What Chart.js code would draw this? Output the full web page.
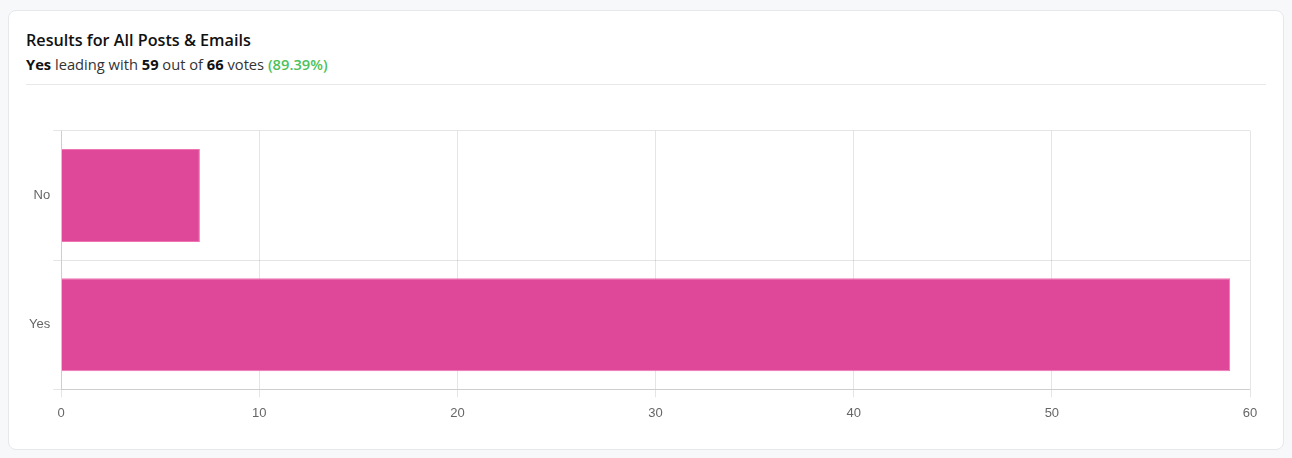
<!DOCTYPE html>
<html>
<head>
<meta charset="utf-8">
<script src="https://cdn.jsdelivr.net/npm/chart.js@4"></script>
<style>
  body { margin: 0; background: #f7f8fa; font-family: "Open Sans", "Noto Sans", sans-serif; }
  .card {
    position: absolute; left: 8px; top: 10px; width: 1274px; height: 438px;
    background: #fff; border: 1px solid #e6e8ec; border-radius: 8px;
  }
  .head { position: absolute; left: 17px; top: 18px; width: 1240px; height: 55px; border-bottom: 1px solid #e8e8e8; }
  h3 { margin: 0; font-size: 16.2px; font-weight: 600; color: #111; line-height: 22px; }
  .sub { font-size: 14.7px; color: #333; line-height: 22px; margin-top: 2px; }
  .sub b { color: #111; }
  .pct { color: #4cc15a; font-weight: 600; }
  .wrap { position: absolute; left: 17px; top: 109px; width: 1248px; height: 309px; }
</style>
</head>
<body>
<div class="card">
  <div class="head">
    <h3>Results for All Posts &amp; Emails</h3>
    <div class="sub"><b>Yes</b> leading with <b>59</b> out of <b>66</b> votes <span class="pct">(89.39%)</span></div>
  </div>
  <div class="wrap"><canvas id="resultsChart"></canvas></div>
</div>
<script>
// poll answers and vote counts
const answers = ['No', 'Yes'];
const votes = [7, 59];

const ctx = document.getElementById('resultsChart').getContext('2d');

new Chart(ctx, {
    type: 'bar',
    data: {
        labels: answers,
        datasets: [{
            label: 'Votes',
            data: votes,
            backgroundColor: '#df4898',
            borderColor: '#ee74b4',
            borderWidth: 1
        }]
    },
    options: {
        indexAxis: 'y',
        responsive: true,
        maintainAspectRatio: false,
        animation: false,
        layout: { padding: { top: 6, right: 24 } },
        plugins: {
            legend: { display: false },
            tooltip: { enabled: false }
        },
        scales: {
            x: { beginAtZero: true, max: 60, ticks: { stepSize: 10, padding: 8, font: { size: 13 } } },
            y: { ticks: { font: { size: 13 } } }
        }
    }
});
</script>
</body>
</html>
